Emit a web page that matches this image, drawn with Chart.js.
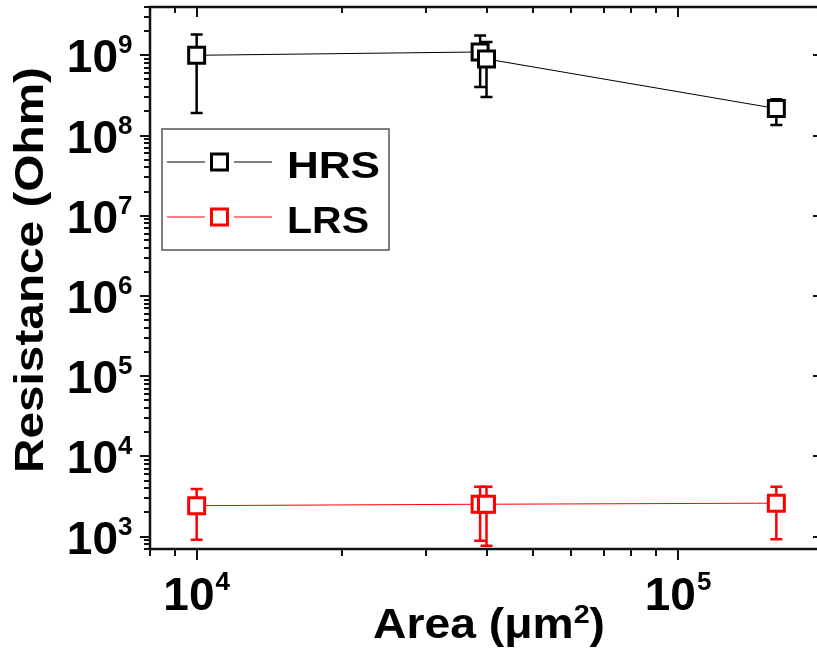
<!DOCTYPE html>
<html>
<head>
<meta charset="utf-8">
<script src="https://cdn.jsdelivr.net/npm/chart.js@4.4.1/dist/chart.umd.min.js"></script>
<style>
    html, body { margin: 0; padding: 0; background: #fff; }
    #wrap { width: 817px; height: 656px; overflow: hidden; }
</style>
</head>
<body>
<div id="wrap"><canvas id="resistanceChart" width="826" height="656"></canvas></div>
<script>
// Data
const areas = [1.0e4, 3.88e4, 4.0e4, 1.6e5];           // um^2

const hrsValues = [1.0e9, 1.1e9, 9.0e8, 2.17e8];
const hrsHigh = [1.81e9, 1.77e9, 1.46e9, 2.83e8];
const hrsLow = [1.91e8, 4.03e8, 3.03e8, 1.35e8];

const lrsValues = [2.43e3, 2.53e3, 2.53e3, 2.61e3];
const lrsHigh = [3.93e3, 4.19e3, 4.19e3, 4.19e3];
const lrsLow = [910, 884, 766, 929];

const xTickExps = [4, 5];
const yTickExps = [3, 4, 5, 6, 7, 8, 9];

const seriesNames = ['HRS', 'LRS'];
const seriesColors = ['#000000', '#ff0000'];

const FONT = '"Liberation Sans", Arial, sans-serif';
const bold = px => 'bold ' + px + 'px ' + FONT;

// draw text stretched to a given width
function drawFitted(ctx, text, x, y, px, width) {
    ctx.font = bold(px);
    const w = ctx.measureText(text).width;
    ctx.save();
    ctx.translate(x, y);
    ctx.scale(width / w, 1);
    ctx.textAlign = 'left';
    ctx.textBaseline = 'alphabetic';
    ctx.fillText(text, 0, 0);
    ctx.restore();
}

const errorBars = {
    id: 'errorBars',
    beforeDatasetsDraw(chart) {
        const { ctx, scales: { x, y } } = chart;
        const sets = [[hrsLow, hrsHigh], [lrsLow, lrsHigh]];
        ctx.save();
        ctx.lineWidth = 2.5;
        sets.forEach(([low, high], s) => {
            ctx.strokeStyle = seriesColors[s];
            areas.forEach((a, i) => {
                const px = x.getPixelForValue(a);
                const y1 = y.getPixelForValue(low[i]);
                const y2 = y.getPixelForValue(high[i]);
                ctx.beginPath();
                ctx.moveTo(px, y1); ctx.lineTo(px, y2);
                ctx.moveTo(px - 6, y1); ctx.lineTo(px + 6, y1);
                ctx.moveTo(px - 6, y2); ctx.lineTo(px + 6, y2);
                ctx.stroke();
            });
        });
        ctx.restore();
    }
};

const frameAndLabels = {
    id: 'frameAndLabels',
    afterDraw(chart) {
        const { ctx, chartArea: a, scales: { x, y } } = chart;
        ctx.save();
        ctx.strokeStyle = '#111';
        ctx.fillStyle = '#000';

        // frame
        ctx.lineWidth = 2.5;
        ctx.strokeRect(a.left, a.top, a.right - a.left, a.bottom - a.top);

        // ticks
        ctx.lineWidth = 2;
        ctx.beginPath();
        for (let e = 2; e <= 9; e++) {
            for (let m = 1; m <= 9; m++) {
                const v = m * Math.pow(10, e);
                if (v < y.min || v > y.max) continue;
                const py = Math.round(y.getPixelForValue(v));
                const len = m === 1 ? 10 : 6;
                ctx.moveTo(a.left - len, py); ctx.lineTo(a.left, py);
                if (m === 1) { ctx.moveTo(a.right - 10, py); ctx.lineTo(a.right, py); }
            }
        }
        for (let e = 3; e <= 5; e++) {
            for (let m = 1; m <= 9; m++) {
                const v = m * Math.pow(10, e);
                if (v < x.min || v > x.max) continue;
                const px = Math.round(x.getPixelForValue(v));
                const len = m === 1 ? 11 : 7;
                ctx.moveTo(px, a.bottom); ctx.lineTo(px, a.bottom + len);
                ctx.moveTo(px, a.top); ctx.lineTo(px, a.top + len - 1);
            }
        }
        ctx.stroke();

        // y tick labels
        yTickExps.forEach(e => {
            const py = y.getPixelForValue(Math.pow(10, e));
            ctx.font = bold(46);
            ctx.textAlign = 'right';
            ctx.textBaseline = 'alphabetic';
            ctx.fillText('10', 118, py + 17);
            ctx.font = bold(26);
            ctx.textAlign = 'left';
            ctx.fillText(String(e), 118, py - 2);
        });

        // x tick labels
        xTickExps.forEach(e => {
            const px = x.getPixelForValue(Math.pow(10, e));
            ctx.font = bold(46);
            const w10 = ctx.measureText('10').width;
            ctx.font = bold(26);
            const wSup = ctx.measureText(String(e)).width;
            const start = px - (w10 + 1 + wSup) / 2;
            ctx.textAlign = 'left';
            ctx.textBaseline = 'alphabetic';
            ctx.font = bold(46);
            ctx.fillText('10', start, 610);
            ctx.font = bold(26);
            ctx.fillText(String(e), start + w10 + 1, 590);
        });

        // x title: Area (μm²)
        {
            const main = 'Area (\u03bcm';
            ctx.font = bold(42);
            const wMain = ctx.measureText(main).width;
            const wClose = ctx.measureText(')').width;
            ctx.font = bold(26);
            const wSup = ctx.measureText('2').width;
            const total = wMain + wSup + wClose;
            const sx = 232 / total;
            ctx.save();
            ctx.translate(373, 638);
            ctx.scale(sx, 1);
            ctx.textAlign = 'left';
            ctx.font = bold(42);
            ctx.fillText(main, 0, 0);
            ctx.font = bold(26);
            ctx.fillText('2', wMain, -15);
            ctx.font = bold(42);
            ctx.fillText(')', wMain + wSup, 0);
            ctx.restore();
        }

        // y title
        ctx.save();
        ctx.translate(43, 473);
        ctx.rotate(-Math.PI / 2);
        drawFitted(ctx, 'Resistance (Ohm)', 0, 0, 40, 406);
        ctx.restore();

        // legend
        ctx.fillStyle = '#fff';
        ctx.fillRect(162, 129, 227, 121);
        ctx.strokeStyle = '#555';
        ctx.lineWidth = 1.5;
        ctx.strokeRect(162, 129, 227, 121);
        const rowsY = [162, 217];
        const textW = [93, 82];
        seriesNames.forEach((name, i) => {
            const ry = rowsY[i];
            ctx.strokeStyle = seriesColors[i];
            ctx.lineWidth = 1;
            ctx.beginPath();
            ctx.moveTo(167, ry); ctx.lineTo(205, ry);
            ctx.moveTo(234, ry); ctx.lineTo(272, ry);
            ctx.stroke();
            ctx.lineWidth = 3;
            ctx.strokeRect(211.5, ry - 8, 16, 16);
            ctx.fillStyle = '#000';
            drawFitted(ctx, name, 287, ry + 16, 37, textW[i]);
        });

        ctx.restore();
    }
};

const ctx = document.getElementById('resistanceChart').getContext('2d');
new Chart(ctx, {
    type: 'scatter',
    data: {
        datasets: [
            {
                label: seriesNames[0],
                data: areas.map((a, i) => ({ x: a, y: hrsValues[i] })),
                showLine: true,
                borderColor: seriesColors[0],
                borderWidth: 1,
                pointStyle: 'rect',
                pointRadius: 11.3,
                pointBorderWidth: 3,
                pointBorderColor: seriesColors[0],
                pointBackgroundColor: '#fff'
            },
            {
                label: seriesNames[1],
                data: areas.map((a, i) => ({ x: a, y: lrsValues[i] })),
                showLine: true,
                borderColor: seriesColors[1],
                borderWidth: 1,
                pointStyle: 'rect',
                pointRadius: 11.3,
                pointBorderWidth: 3,
                pointBorderColor: seriesColors[1],
                pointBackgroundColor: '#fff'
            }
        ]
    },
    options: {
        responsive: false,
        animation: false,
        devicePixelRatio: 1,
        layout: { autoPadding: false, padding: { left: 150, top: 7, right: 3, bottom: 107 } },
        plugins: {
            legend: { display: false },
            tooltip: { enabled: false }
        },
        scales: {
            x: { type: 'logarithmic', min: 8000, max: 2e5, display: false },
            y: { type: 'logarithmic', min: 700, max: 4e9, display: false }
        }
    },
    plugins: [errorBars, frameAndLabels]
});
</script>
</body>
</html>
